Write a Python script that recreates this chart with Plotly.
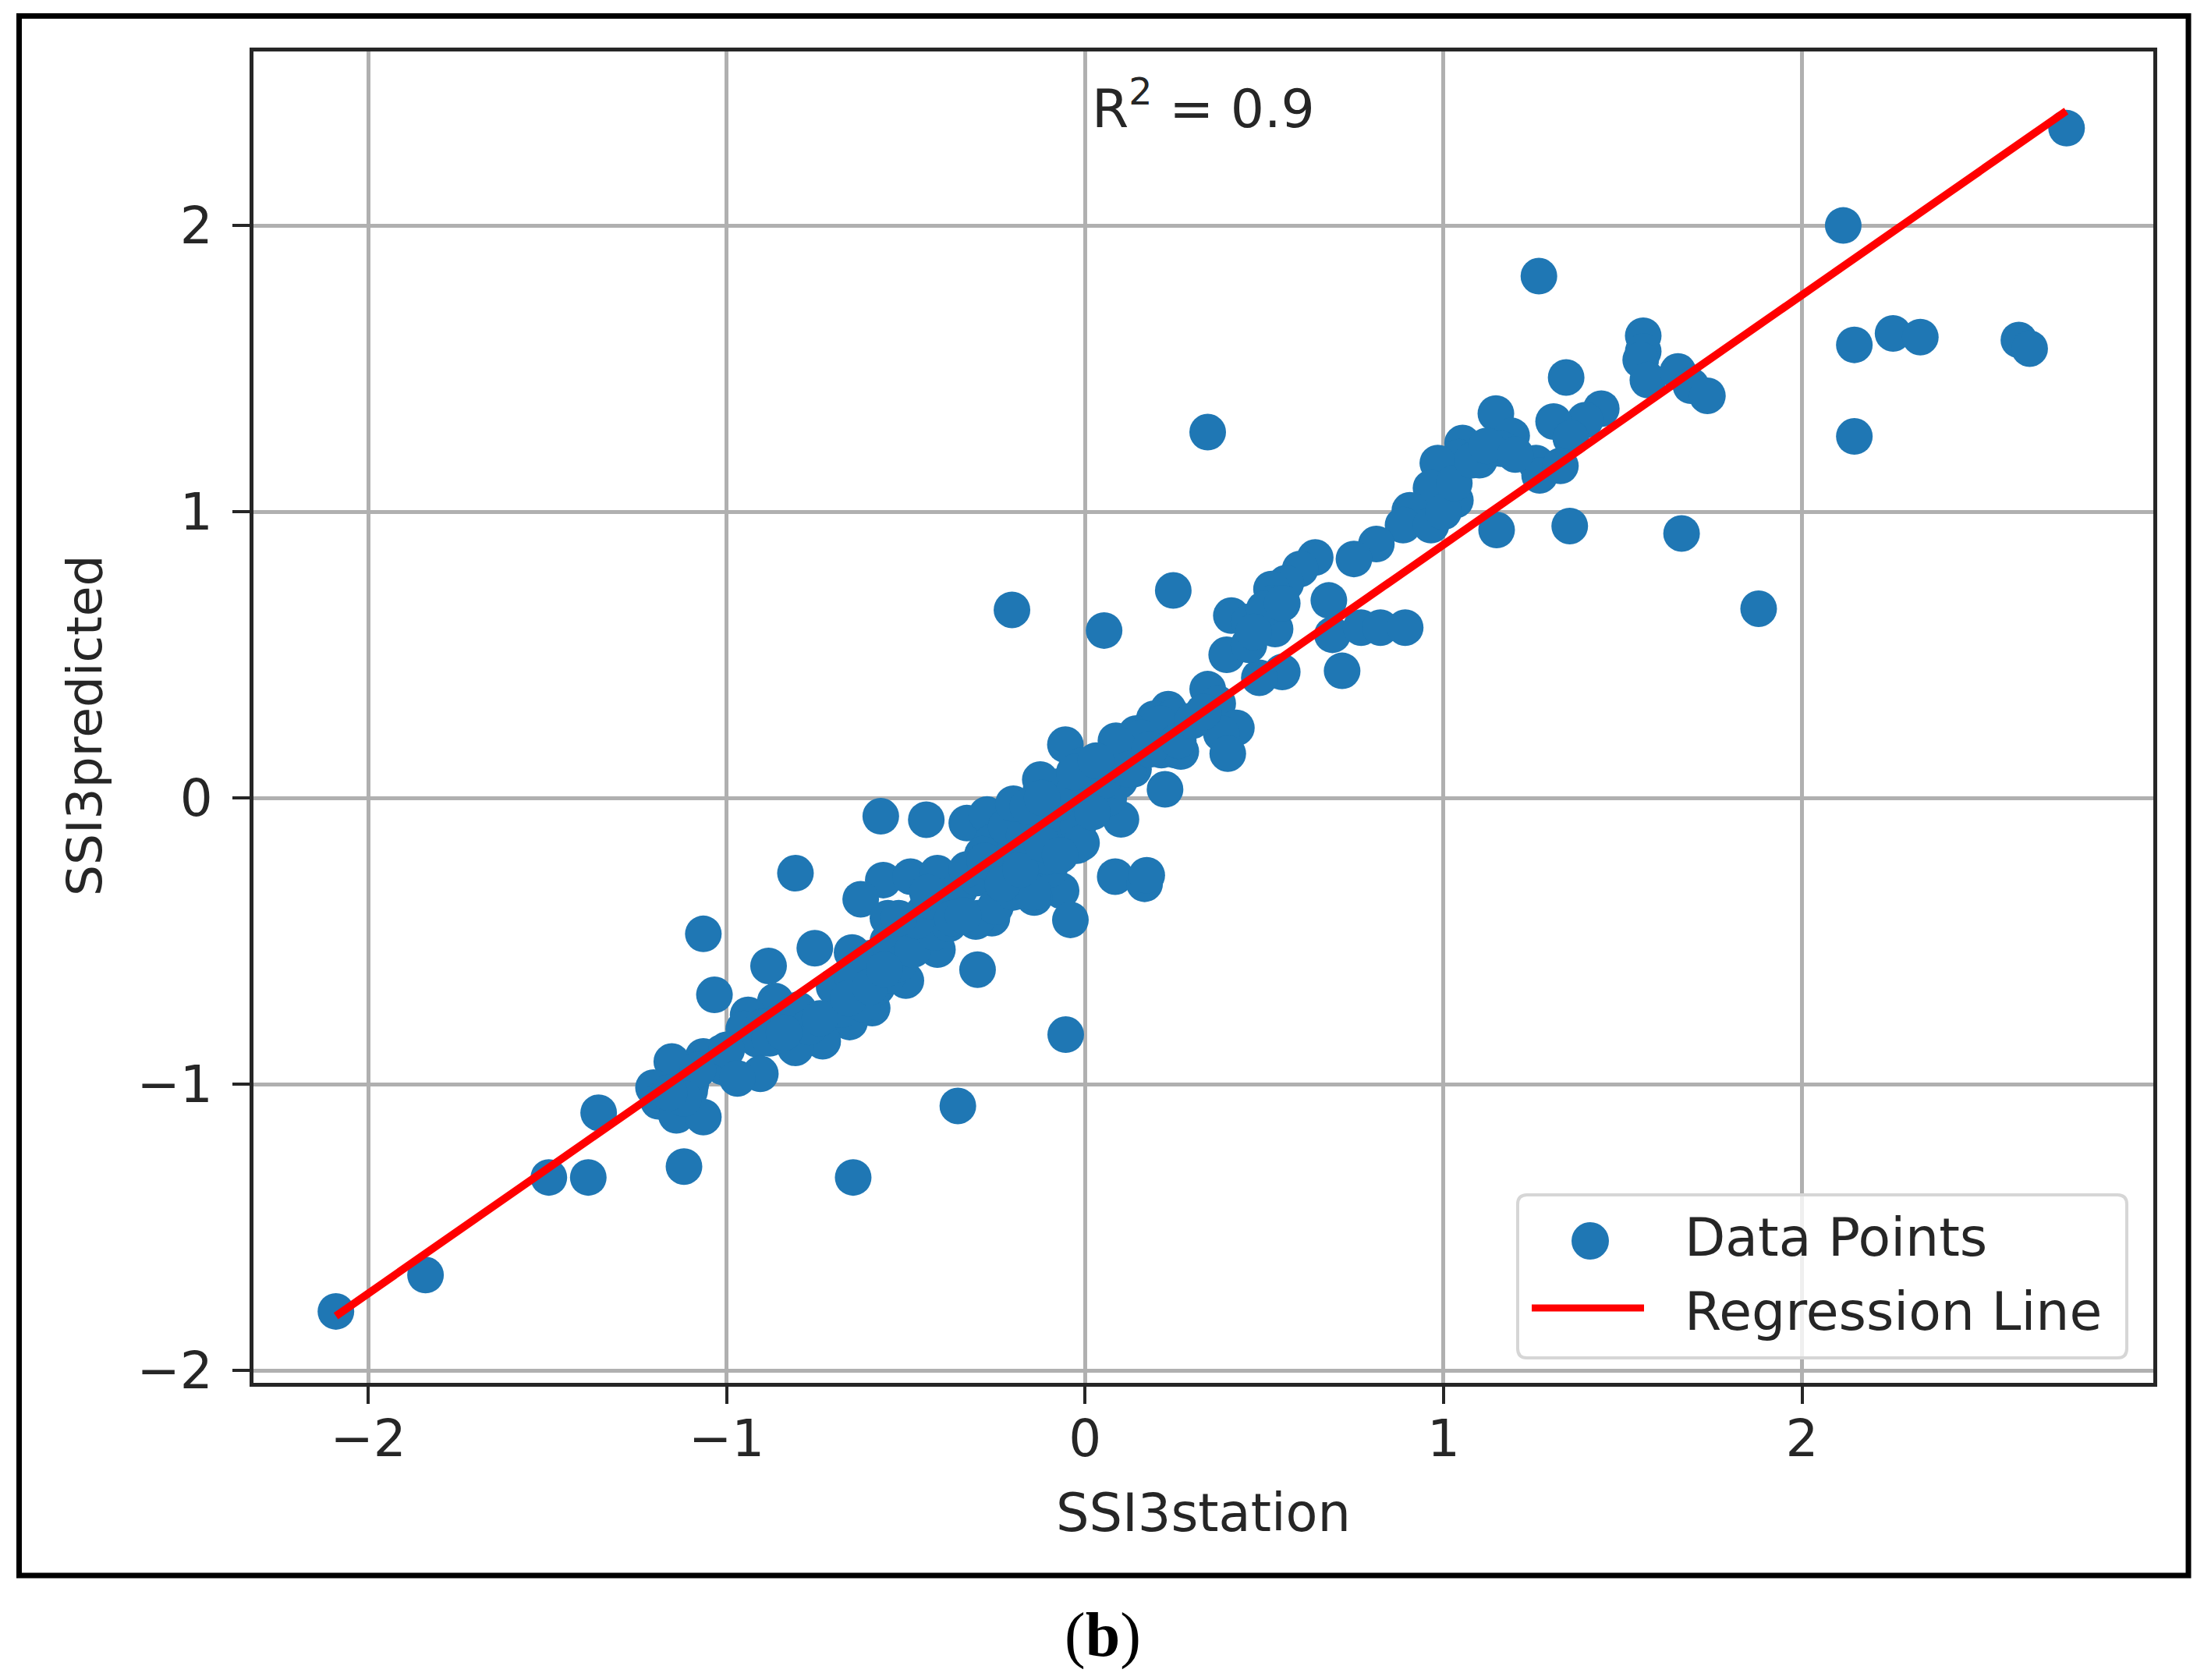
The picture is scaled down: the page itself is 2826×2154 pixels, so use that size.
import plotly.graph_objects as go

# ---- data ----
ssi3_station = [
 2.738,2.115,1.266,1.557,1.557,1.55,1.57,1.654,1.69,1.736,2.146,2.254,2.33,2.605,2.635,2.146,1.342,
 1.44,1.395,1.307,1.355,1.258,1.268,1.326,1.146,1.19,1.16,1.10,1.053,1.043,0.984,0.965,1.033,0.906,0.887,0.965,
 1.148,1.352,1.664,1.879,0.342,0.8125,0.75,0.642,0.60,0.56,0.52,0.52,0.68,0.408,0.457,0.53,0.69,0.77,0.824,0.893,
 0.246,0.053,0.717,0.55,0.486,0.395,0.457,0.342,0.37,0.232,0.193,0.086,0.143,0.422,0.38,0.398,0.252,0.213,
 0.135,0.223,0.10,0.066,-0.008,0.096,0.247,0.208,0.267,0.13,0.157,0.09,
 -0.57,-0.443,-0.33,-0.274,-0.198,-0.26,-0.286,-0.123,-0.073,0.028,-0.023,0.084,0.166,0.172,
 -0.808,-0.067,-0.142,-0.041,-0.26,-0.305,-0.563,-0.487,-0.412,-0.626,-0.55,-0.412,-0.30,
 -0.50,-0.054,-0.355,-0.647,-1.065,-0.754,-0.883,-1.034,-0.65,-0.594,-0.657,-0.732,-0.808,
 -0.864,-0.94,-0.952,-0.915,-0.906,-1.015,-1.065,-1.153,-1.01,-1.204,-1.103,-1.19,-1.14,-1.065,
 -1.357,-1.119,-1.386,-1.496,-2.09,-1.84,
 -0.85,-0.8,-0.7,-0.65,-0.6,-0.55,-0.5,-0.45,-0.4,-0.35,-0.3,-0.25,-0.2,-0.15,-0.1,-0.05,
 -0.68,-0.62,-0.58,-0.55,-0.52,-0.48,-0.42,-0.38,-0.3,-0.25,-0.2,-0.15,-0.1,-0.05,-0.02,
 -0.125,-0.055,-0.01,-0.01,-0.106,-0.145,-1.1,-1.08,-1.0,0.0,0.05,0.12,0.18,0.26,0.3,0.33,
 -0.204,1.0,1.03,1.08,1.12,1.2,0.5,0.55,0.47,-0.77,-0.74,-0.66,-0.6,-0.56,-0.47,-0.43,-0.37,-0.33,-0.28,
 -0.23,-0.18,-0.13,-0.08,-0.03,-0.22,-0.17,-0.12,-0.07,-0.34,-0.44,-0.52,-0.9,-0.88,-0.84,-0.97,-1.12,-1.16,
 -0.2,-0.16,-0.12,-0.03,0.03,0.02,
]
ssi3_predicted = [
 2.34,2.0,1.823,1.615,1.56,1.53,1.46,1.49,1.44,1.405,1.583,1.623,1.61,1.60,1.57,1.263,1.469,
 1.36,1.32,1.315,1.257,1.17,1.127,1.16,1.343,1.265,1.22,1.18,1.24,1.19,1.17,1.083,1.04,1.005,0.953,0.953,
 0.936,0.95,0.924,0.661,1.278,0.887,0.835,0.84,0.80,0.75,0.73,0.68,0.69,0.637,0.615,0.59,0.57,0.595,0.595,0.595,
 0.725,0.585,0.444,0.44,0.42,0.50,0.535,0.38,0.33,0.31,0.277,0.20,0.225,0.245,0.225,0.155,0.167,0.167,
 0.10,0.03,-0.075,0.0,0.07,0.06,0.284,0.26,0.162,0.113,0.21,0.186,
 -0.064,-0.076,-0.088,-0.058,-0.058,-0.155,-0.197,0.027,0.04,0.027,-0.167,-0.275,-0.30,-0.27,
 -0.263,-0.324,-0.348,-0.426,-0.42,-0.432,-0.287,-0.275,-0.263,-0.354,-0.42,-0.53,-0.60,
 -0.638,-0.827,-1.076,-1.326,-0.475,-0.525,-0.587,-0.688,-0.54,-0.734,-0.783,-0.85,-0.873,
 -0.71,-0.758,-0.807,-0.843,-0.964,-0.891,-0.903,-0.921,-0.94,-1.012,-1.024,-1.06,-1.109,-1.115,
 -1.10,-1.288,-1.326,-1.326,-1.794,-1.667,
 -0.78,-0.74,-0.66,-0.62,-0.56,-0.5,-0.46,-0.4,-0.37,-0.32,-0.28,-0.24,-0.2,-0.12,-0.1,-0.03,
 -0.74,-0.72,-0.66,-0.62,-0.58,-0.53,-0.47,-0.44,-0.42,-0.38,-0.33,-0.3,-0.25,-0.17,-0.1,
 0.064,0.186,0.113,-0.157,-0.206,-0.33,-1.0,-0.95,-0.88,0.09,0.06,0.1,0.17,0.2,0.27,0.3,
 0.657,1.0,1.1,1.18,1.23,1.2,0.66,0.68,0.58,-0.8,-0.77,-0.7,-0.66,-0.6,-0.43,-0.36,-0.42,-0.25,-0.22,
 -0.3,-0.25,-0.06,-0.02,0.03,-0.1,-0.13,-0.16,-0.2,-0.41,-0.33,-0.42,-0.8,-0.84,-0.82,-0.98,-1.05,-1.03,
 -0.02,-0.03,0.0,0.09,0.13,-0.05,
]
line_x = [-2.09, 2.737]
line_y = [-1.81, 2.40]
x_ticks = [-2, -1, 0, 1, 2]
y_ticks = [-2, -1, 0, 1, 2]
legend_labels = ["Data Points", "Regression Line"]
x_title = "SSI3station"
y_title = "SSI3predicted"
r2_text = "R<sup>2</sup> = 0.9"
r2_pos = (0.33, 2.42)
caption = "(<b>b</b>)"

# ---- layout ----
W, H = 2826, 2154
OFF = 8  # the page draws the figure this far from its corner
L, R, T, B = 325, 2761, 66, 1773
x_range = [-2.32, 2.98]
y_range = [-2.0436, 2.608]
BLUE = "#1f77b4"
INK = "#262626"
FONT = "DejaVu Sans"


def px(v):
    return (v - L) / (R - L)


def py(v):
    return (B - v) / (B - T)


fig = go.Figure()
fig.add_trace(go.Scatter(x=ssi3_station, y=ssi3_predicted, mode="markers", name=legend_labels[0],
                         marker=dict(color=BLUE, size=47, line=dict(width=0)), showlegend=False))
fig.add_trace(go.Scatter(x=line_x, y=line_y, mode="lines", name=legend_labels[1],
                         line=dict(color="#ff0000", width=10), showlegend=False))

axis = dict(showgrid=True, gridcolor="#b0b0b0", gridwidth=4.5, zeroline=False, showline=True,
            linecolor=INK, linewidth=5, mirror=True, ticks="outside", ticklen=22, tickwidth=4,
            tickcolor=INK, tickfont=dict(family=FONT, size=66, color=INK), tickmode="array")

# legend box
lx0, lx1, ly0, ly1, rad = 1946, 2727, 1532, 1741, 12
box = (f"M {px(lx0+rad)} {py(ly0)} L {px(lx1-rad)} {py(ly0)} Q {px(lx1)} {py(ly0)} {px(lx1)} {py(ly0+rad)} "
       f"L {px(lx1)} {py(ly1-rad)} Q {px(lx1)} {py(ly1)} {px(lx1-rad)} {py(ly1)} "
       f"L {px(lx0+rad)} {py(ly1)} Q {px(lx0)} {py(ly1)} {px(lx0)} {py(ly1-rad)} "
       f"L {px(lx0)} {py(ly0+rad)} Q {px(lx0)} {py(ly0)} {px(lx0+rad)} {py(ly0)} Z")

shapes = [
    dict(type="rect", xref="paper", yref="paper", x0=px(24.5), x1=px(2806), y0=py(20.5), y1=py(2020),
         line=dict(color="#000000", width=7), fillcolor="rgba(0,0,0,0)"),
    dict(type="path", xref="paper", yref="paper", path=box, line=dict(color="#d6d6d6", width=4),
         fillcolor="rgba(255,255,255,0.8)"),
    dict(type="circle", xref="paper", yref="paper", x0=px(2015), x1=px(2063), y0=py(1567), y1=py(1615),
         line=dict(width=0), fillcolor=BLUE),
    dict(type="line", xref="paper", yref="paper", x0=px(1964), x1=px(2108), y0=py(1677), y1=py(1677),
         line=dict(color="#ff0000", width=9)),
]

annotations = [
    dict(x=r2_pos[0], y=r2_pos[1], xref="x", yref="y", text=r2_text, showarrow=False,
         xanchor="center", yanchor="middle", font=dict(family=FONT, size=68, color=INK)),
    dict(x=px(2158), y=py(1586), xref="paper", yref="paper", xanchor="left", yanchor="middle",
         text=legend_labels[0], showarrow=False, font=dict(family=FONT, size=68, color=INK)),
    dict(x=px(2158), y=py(1681), xref="paper", yref="paper", xanchor="left", yanchor="middle",
         text=legend_labels[1], showarrow=False, font=dict(family=FONT, size=68, color=INK)),
    dict(x=px(1414), y=py(2096), xref="paper", yref="paper", xanchor="center", yanchor="middle",
         text=caption, showarrow=False, font=dict(family="Liberation Serif", size=80, color="#000000")),
    dict(x=px(108), y=py(930), xref="paper", yref="paper", xanchor="center", yanchor="middle",
         text=y_title, textangle=-90, showarrow=False, font=dict(family=FONT, size=63, color=INK)),
]

fig.update_layout(
    width=W, height=H, autosize=False, paper_bgcolor="white", plot_bgcolor="white",
    margin=dict(l=L - OFF, r=W - R + OFF, t=T - OFF, b=H - B + OFF, pad=0), showlegend=False,
    xaxis=dict(range=x_range, tickvals=x_ticks, ticklabelstandoff=-12,
               title=dict(text=x_title, font=dict(family=FONT, size=67, color=INK), standoff=35), **axis),
    yaxis=dict(range=y_range, tickvals=y_ticks, ticklabelstandoff=12, **axis),
    shapes=shapes, annotations=annotations,
)
fig.write_html("out.html", config=dict(displayModeBar=False))
